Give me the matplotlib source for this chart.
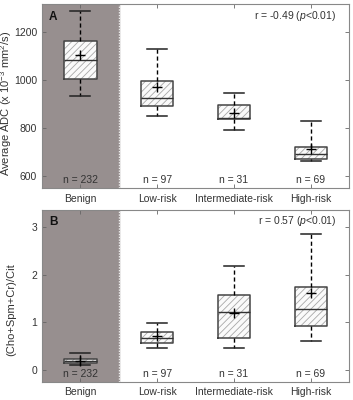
import matplotlib
matplotlib.use("Agg")
import matplotlib.pyplot as plt
from matplotlib.transforms import blended_transform_factory

plt.rcParams['font.family'] = ['Liberation Sans', 'DejaVu Sans']
plt.rcParams['mathtext.fontset'] = 'custom'
plt.rcParams['mathtext.rm'] = 'Liberation Sans'
plt.rcParams['mathtext.it'] = 'Liberation Sans:italic'
plt.rcParams['hatch.linewidth'] = 0.6

groups = ['Benign', 'Low-risk', 'Intermediate-risk', 'High-risk']
counts = [232, 97, 31, 69]

# panel A: average ADC
adc_low = [933, 851, 792, 662]
adc_q1 = [1005, 892, 838, 672]
adc_med = [1086, 927, 842, 692]
adc_q3 = [1164, 997, 896, 722]
adc_high = [1287, 1129, 946, 828]
adc_mean = [1104, 971, 861, 712]

# panel B: (Cho+Spm+Cr)/Cit
ratio_low = [0.11, 0.47, 0.47, 0.61]
ratio_q1 = [0.14, 0.56, 0.67, 0.92]
ratio_med = [0.19, 0.67, 1.22, 1.28]
ratio_q3 = [0.24, 0.80, 1.58, 1.74]
ratio_high = [0.36, 0.99, 2.17, 2.84]
ratio_mean = [0.20, 0.71, 1.19, 1.62]

panels = [
    ('A', 'Average ADC (x 10$^{-3}$ mm$^{2}$/s)', 'r = -0.49 ($p$<0.01)',
     adc_low, adc_q1, adc_med, adc_q3, adc_high, adc_mean,
     (550, 1318), [600, 800, 1000, 1200], (-0.090, 0.457)),
    ('B', '(Cho+Spm+Cr)/Cit', 'r = 0.57 ($p$<0.01)',
     ratio_low, ratio_q1, ratio_med, ratio_q3, ratio_high, ratio_mean,
     (-0.245, 3.35), [0, 1, 2, 3], (-0.085, 0.418)),
]

fig = plt.figure(figsize=(3.53, 4.0), dpi=100)
rects = [[0.119, 0.53, 0.870, 0.46], [0.119, 0.0455, 0.870, 0.4295]]
txt = '#333333'
fs = 7.5

for rect, p in zip(rects, panels):
    letter, ylab, rtext, lo, q1, med, q3, hi, mn, ylim, yt, labxy = p
    ax = fig.add_axes(rect)
    stats = []
    for i in range(4):
        stats.append(dict(whislo=lo[i], q1=q1[i], med=med[i], q3=q3[i],
                          whishi=hi[i], mean=mn[i], fliers=[]))
    pos = [1, 2, 3, 4]
    # hatched fill
    ax.bxp(stats, positions=pos, widths=0.42, patch_artist=True,
           showcaps=False, showmeans=False,
           boxprops=dict(facecolor='#fafafa', edgecolor='#a8a8a8', hatch='/////', linewidth=0),
           whiskerprops=dict(linewidth=0), medianprops=dict(linewidth=0))
    # outlines, whiskers, caps, mean
    ax.bxp(stats, positions=pos, widths=0.42, showmeans=True, capwidths=0.26,
           boxprops=dict(color='#444444', linewidth=1.1),
           whiskerprops=dict(color='black', linewidth=1.0, linestyle=(0, (3, 2))),
           capprops=dict(color='#222222', linewidth=1.1),
           medianprops=dict(color='#333333', linewidth=1.0),
           meanprops=dict(marker='+', markeredgecolor='black', markersize=6.5, markeredgewidth=1.0))
    ax.axvspan(0.5, 1.5, color='#978f8f', zorder=0)
    ax.axvline(1.5, color='#eeeeee', linestyle=(0, (1, 1)), linewidth=1.0, zorder=1)
    ax.set_xlim(0.5, 4.5)
    ax.set_ylim(*ylim)
    ax.set_yticks(yt)
    ax.set_xticks(pos)
    ax.set_xticklabels(groups)
    ax.tick_params(direction='in', length=3, width=0.6, colors='#666666',
                   labelcolor=txt, labelsize=fs, top=True, right=True)
    ax.tick_params(axis='x', pad=4)
    for s in ax.spines.values():
        s.set_color('#888888')
        s.set_linewidth(0.8)
    ax.set_ylabel(ylab, fontsize=8, color=txt)
    ax.yaxis.set_label_coords(*labxy)
    tr = blended_transform_factory(ax.transData, ax.transAxes)
    for i in range(4):
        ax.text(pos[i], 0.045, 'n = %d' % counts[i], transform=tr, ha='center',
                va='center', fontsize=fs, color=txt)
    ax.text(0.036, 0.93, letter, transform=ax.transAxes, ha='center', va='center',
            fontsize=8.5, fontweight='bold', color='#111111')
    ax.text(0.958, 0.935, rtext, transform=ax.transAxes, ha='right', va='center',
            fontsize=fs, color=txt)

fig.savefig('out.png', dpi=100)
